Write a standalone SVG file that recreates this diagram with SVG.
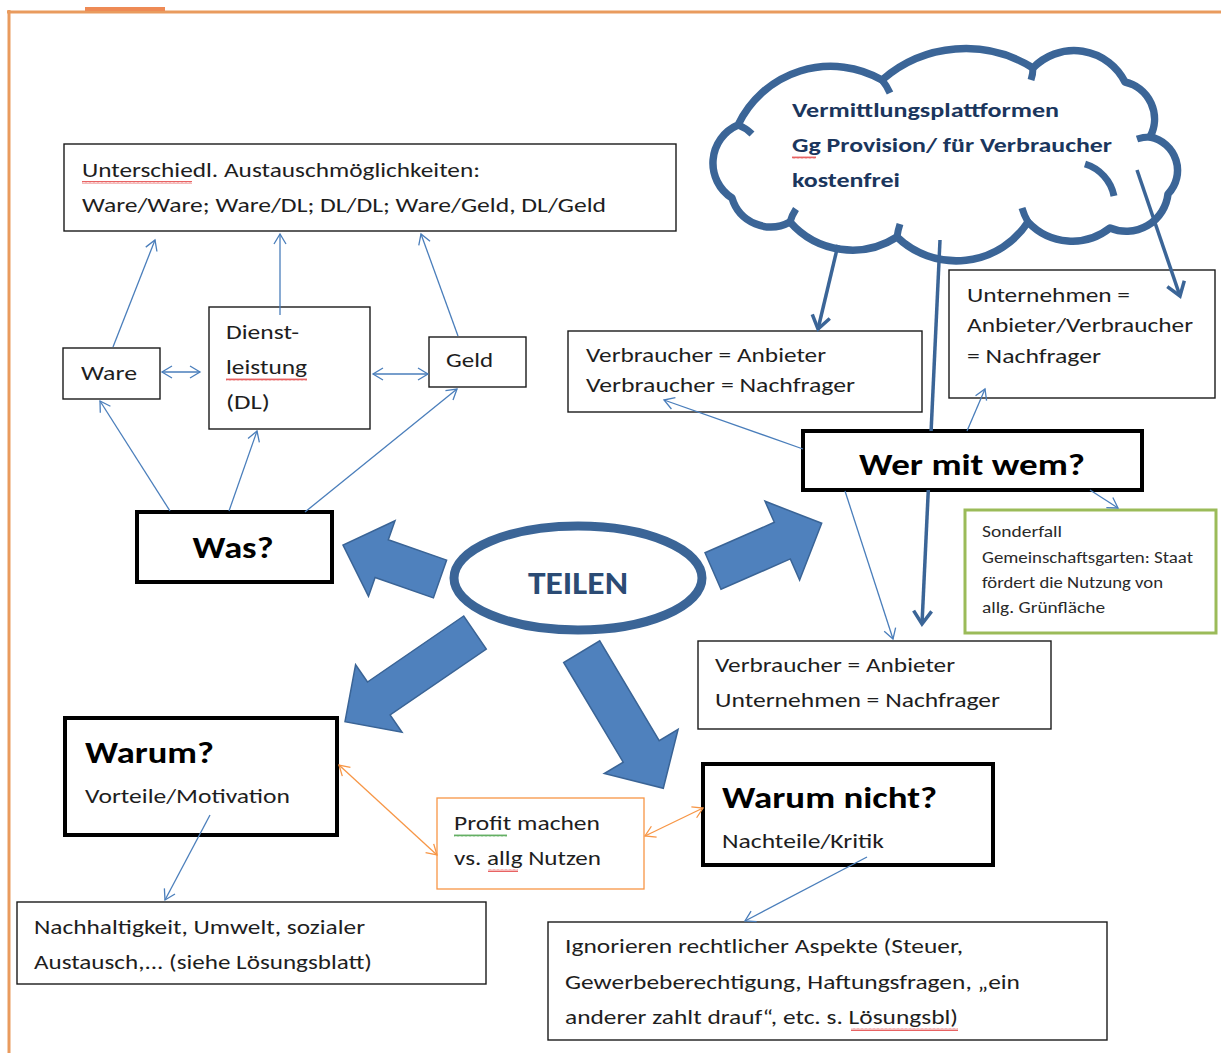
<svg xmlns="http://www.w3.org/2000/svg" width="1221" height="1053" viewBox="0 0 1221 1053">
<style>
.t{font-family:Carlito,Lato,"Open Sans","Liberation Sans",sans-serif;font-size:21px;fill:#1e1e1e}
.s{font-family:Carlito,Lato,"Open Sans","Liberation Sans",sans-serif;font-size:16px;fill:#2a2a2a}
.b{font-family:Carlito,Lato,"Open Sans","Liberation Sans",sans-serif;font-size:31px;font-weight:bold;fill:#000}
.cl{font-family:Carlito,Lato,"Open Sans","Liberation Sans",sans-serif;font-size:21px;font-weight:bold;fill:#1b365d}
.box{fill:#fff;stroke:#1a1a1a;stroke-width:1.4}
.tbox{fill:#fff;stroke:#000;stroke-width:4}
.con{fill:none;stroke:#4a7ebb;stroke-width:1.3}
.ocon{fill:none;stroke:#f79646;stroke-width:1.3}
.thk{fill:none;stroke:#3b6597;stroke-width:3.5}
.blk{fill:#4f81bd;stroke:#3a6496;stroke-width:1.5}
</style>
<defs>
<marker id="ab" viewBox="-12 -8 14 16" markerWidth="14" markerHeight="16" refX="0" refY="0" orient="auto-start-reverse" markerUnits="userSpaceOnUse"><path d="M-10,-6 L0,0 L-10,6" fill="none" stroke="#4a7ebb" stroke-width="1.3"/></marker>
<marker id="ao" viewBox="-12 -8 14 16" markerWidth="14" markerHeight="16" refX="0" refY="0" orient="auto-start-reverse" markerUnits="userSpaceOnUse"><path d="M-10,-6 L0,0 L-10,6" fill="none" stroke="#f79646" stroke-width="1.3"/></marker>
<marker id="at" viewBox="-18 -12 21 24" markerWidth="21" markerHeight="24" refX="0" refY="0" orient="auto" markerUnits="userSpaceOnUse"><path d="M-13,-9 L0,0 L-13,9" fill="none" stroke="#3b6597" stroke-width="3.5"/></marker>
<pattern id="wr" width="4" height="3" patternUnits="userSpaceOnUse"><path d="M0,2.5 L1,0.5 L2,2.5 L3,0.5 L4,2.5" fill="none" stroke="#e23b3b" stroke-width="0.8"/></pattern>
<pattern id="wg" width="4" height="3" patternUnits="userSpaceOnUse"><path d="M0,2.5 L1,0.5 L2,2.5 L3,0.5 L4,2.5" fill="none" stroke="#3c9a3c" stroke-width="0.8"/></pattern>
</defs>

<g id="frame">
<line x1="7" y1="12" x2="1221" y2="12" stroke="#e99b5e" stroke-width="3"/>
<line x1="9" y1="10" x2="9" y2="1053" stroke="#e99b5e" stroke-width="3"/>
<rect x="85" y="7" width="80" height="4" fill="#ee8a55"/>
</g>

<g id="cloud">
<path d="M732,198 A41.5 41.5 0 0 1 738,125 A102.7 102.7 0 0 1 882,80 A127 127 0 0 1 1033,68 A57 57 0 0 1 1125,82 A38 38 0 0 1 1150,137 A34 34 0 0 1 1168,194 A42 42 0 0 1 1110,228 A60.8 60.8 0 0 1 1028,222 A85.6 85.6 0 0 1 897,237 A82.9 82.9 0 0 1 790,222 A40.4 40.4 0 0 1 732,198 Z" fill="#fff" stroke="#3b6597" stroke-width="7.5" stroke-linejoin="round"/>
<path d="M738,125 Q746,128 752,134 M882,80 Q887,86 890,93 M1033,68 Q1033,74 1031,80 M1150,137 Q1143,137 1137,139 M1028,222 Q1024,215 1022,208 M897,237 Q898,230 900,224 M790,222 Q792,215 796,209 M1085,164 A42 42 0 0 1 1114,196" fill="none" stroke="#3b6597" stroke-width="7"/>
<text class="cl" x="792" y="117" textLength="267" lengthAdjust="spacingAndGlyphs">Vermittlungsplattformen</text>
<text class="cl" x="792" y="152" textLength="320" lengthAdjust="spacingAndGlyphs">Gg Provision/ für Verbraucher</text>
<text class="cl" x="792" y="187" textLength="108" lengthAdjust="spacingAndGlyphs">kostenfrei</text>
<rect x="792" y="156" width="24" height="3" fill="url(#wr)"/>
</g>

<g id="block-arrows">
<polygon class="blk" points="446.6,560.1 388.3,539.7 395,520.8 343,545 368.5,596.4 375.1,577.5 433.4,597.9"/>
<polygon class="blk" points="705,552.7 774.3,522.3 765,501.2 821.7,523.3 799.6,580 790.3,558.9 721,589.3"/>
<polygon class="blk" points="463.7,616 367.5,682 355.6,664.7 345,721.7 402,732.3 390.1,715 486.3,649"/>
<polygon class="blk" points="563.7,662.5 623.2,762.2 604.3,773.5 663.3,788.3 678.1,729.3 659.2,740.6 599.7,640.9"/>
</g>

<g id="teilen">
<ellipse cx="578" cy="578" rx="124" ry="52" fill="#fff" stroke="#3b6597" stroke-width="9"/>
<text x="578" y="594" text-anchor="middle" font-family="Carlito,Lato,'Open Sans',sans-serif" font-size="32" font-weight="bold" fill="#2b4b74" textLength="100" lengthAdjust="spacingAndGlyphs">TEILEN</text>
</g>

<g id="austausch">
<rect class="box" x="64" y="144" width="612" height="87"/>
<text class="t" x="82" y="177" textLength="398" lengthAdjust="spacingAndGlyphs">Unterschiedl. Austauschmöglichkeiten:</text>
<text class="t" x="82" y="212" textLength="524" lengthAdjust="spacingAndGlyphs">Ware/Ware; Ware/DL; DL/DL; Ware/Geld, DL/Geld</text>
<rect x="82" y="181" width="110" height="3" fill="url(#wr)"/>
</g>

<g id="ware">
<rect class="box" x="63" y="348" width="97" height="51"/>
<text class="t" x="81" y="380" textLength="56" lengthAdjust="spacingAndGlyphs">Ware</text>
</g>

<g id="dienstleistung">
<rect class="box" x="209" y="307" width="161" height="122"/>
<text class="t" x="226" y="339" textLength="73" lengthAdjust="spacingAndGlyphs">Dienst-</text>
<text class="t" x="226" y="374" textLength="81" lengthAdjust="spacingAndGlyphs">leistung</text>
<text class="t" x="226" y="409" textLength="44" lengthAdjust="spacingAndGlyphs">(DL)</text>
<rect x="226" y="378" width="81" height="3" fill="url(#wr)"/>
</g>

<g id="geld">
<rect class="box" x="429" y="337" width="97" height="50"/>
<text class="t" x="446" y="367" textLength="47" lengthAdjust="spacingAndGlyphs">Geld</text>
</g>

<g id="was">
<rect class="tbox" x="137" y="512" width="195" height="70"/>
<text class="b" x="233" y="558" text-anchor="middle" textLength="81" lengthAdjust="spacingAndGlyphs">Was?</text>
</g>

<g id="verbraucher-verbraucher">
<rect class="box" x="568" y="331" width="354" height="81"/>
<text class="t" x="586" y="362" textLength="240" lengthAdjust="spacingAndGlyphs">Verbraucher = Anbieter</text>
<text class="t" x="586" y="392" textLength="269" lengthAdjust="spacingAndGlyphs">Verbraucher = Nachfrager</text>
</g>

<g id="unternehmen">
<rect class="box" x="949" y="270" width="266" height="128"/>
<text class="t" x="967" y="302" textLength="163" lengthAdjust="spacingAndGlyphs">Unternehmen =</text>
<text class="t" x="967" y="332" textLength="226" lengthAdjust="spacingAndGlyphs">Anbieter/Verbraucher</text>
<text class="t" x="967" y="363" textLength="134" lengthAdjust="spacingAndGlyphs">= Nachfrager</text>
</g>

<g id="wer-mit-wem">
<rect class="tbox" x="803" y="431" width="339" height="59"/>
<text class="b" x="972" y="475" text-anchor="middle" textLength="226" lengthAdjust="spacingAndGlyphs">Wer mit wem?</text>
</g>

<g id="sonderfall">
<rect x="965" y="510" width="251" height="123" fill="#fff" stroke="#9bbb59" stroke-width="3"/>
<text class="s" x="982" y="537" textLength="80" lengthAdjust="spacingAndGlyphs">Sonderfall</text>
<text class="s" x="982" y="563" textLength="211" lengthAdjust="spacingAndGlyphs">Gemeinschaftsgarten: Staat</text>
<text class="s" x="982" y="588" textLength="181" lengthAdjust="spacingAndGlyphs">fördert die Nutzung von</text>
<text class="s" x="982" y="613" textLength="123" lengthAdjust="spacingAndGlyphs">allg. Grünfläche</text>
</g>

<g id="verbraucher-unternehmen">
<rect class="box" x="698" y="641" width="353" height="88"/>
<text class="t" x="715" y="672" textLength="240" lengthAdjust="spacingAndGlyphs">Verbraucher = Anbieter</text>
<text class="t" x="715" y="707" textLength="285" lengthAdjust="spacingAndGlyphs">Unternehmen = Nachfrager</text>
</g>

<g id="warum">
<rect class="tbox" x="65" y="718" width="272" height="117"/>
<text class="b" x="85" y="763" textLength="129" lengthAdjust="spacingAndGlyphs">Warum?</text>
<text class="t" x="85" y="803" textLength="205" lengthAdjust="spacingAndGlyphs">Vorteile/Motivation</text>
</g>

<g id="warum-nicht">
<rect class="tbox" x="703" y="764" width="290" height="101"/>
<text class="b" x="722" y="808" textLength="215" lengthAdjust="spacingAndGlyphs">Warum nicht?</text>
<text class="t" x="722" y="848" textLength="162" lengthAdjust="spacingAndGlyphs">Nachteile/Kritik</text>
</g>

<g id="profit">
<rect x="437" y="798" width="207" height="91" fill="#fff" stroke="#f79646" stroke-width="1.3"/>
<text class="t" x="454" y="830" textLength="146" lengthAdjust="spacingAndGlyphs">Profit machen</text>
<text class="t" x="454" y="865" textLength="147" lengthAdjust="spacingAndGlyphs">vs. allg Nutzen</text>
<rect x="454" y="834" width="53" height="3" fill="url(#wg)"/>
<rect x="488" y="869" width="30" height="3" fill="url(#wr)"/>
</g>

<g id="nachhaltigkeit">
<rect class="box" x="17" y="902" width="469" height="82"/>
<text class="t" x="34" y="934" textLength="331" lengthAdjust="spacingAndGlyphs">Nachhaltigkeit, Umwelt, sozialer</text>
<text class="t" x="34" y="969" textLength="338" lengthAdjust="spacingAndGlyphs">Austausch,... (siehe Lösungsblatt)</text>
</g>

<g id="ignorieren">
<rect class="box" x="548" y="922" width="559" height="118"/>
<text class="t" x="565" y="953" textLength="398" lengthAdjust="spacingAndGlyphs">Ignorieren rechtlicher Aspekte (Steuer,</text>
<text class="t" x="565" y="989" textLength="455" lengthAdjust="spacingAndGlyphs">Gewerbeberechtigung, Haftungsfragen, „ein</text>
<text class="t" x="565" y="1024" textLength="393" lengthAdjust="spacingAndGlyphs">anderer zahlt drauf“, etc. s. Lösungsbl)</text>
<rect x="851" y="1028" width="107" height="3" fill="url(#wr)"/>
</g>

<g id="connectors">
<line class="con" x1="113" y1="347" x2="155" y2="240" marker-end="url(#ab)"/>
<line class="con" x1="280" y1="315" x2="280" y2="234" marker-end="url(#ab)"/>
<line class="con" x1="458" y1="336" x2="421" y2="234" marker-end="url(#ab)"/>
<line class="con" x1="162" y1="372" x2="200" y2="372" marker-start="url(#ab)" marker-end="url(#ab)"/>
<line class="con" x1="373" y1="374" x2="428" y2="374" marker-start="url(#ab)" marker-end="url(#ab)"/>
<line class="con" x1="170" y1="511" x2="100" y2="401" marker-end="url(#ab)"/>
<line class="con" x1="229" y1="511" x2="257" y2="431" marker-end="url(#ab)"/>
<line class="con" x1="305" y1="512" x2="457" y2="389" marker-end="url(#ab)"/>
<line class="thk" x1="838" y1="245" x2="818" y2="329" marker-end="url(#at)"/>
<line class="thk" x1="940" y1="240" x2="931.1" y2="431"/>
<line class="thk" x1="928.3" y1="490" x2="922" y2="624" marker-end="url(#at)"/>
<line class="thk" x1="1137" y1="170" x2="1180" y2="296" marker-end="url(#at)"/>
<line class="con" x1="803" y1="449" x2="664" y2="400" marker-end="url(#ab)"/>
<line class="con" x1="967" y1="431" x2="985" y2="389" marker-end="url(#ab)"/>
<line class="con" x1="1090" y1="490" x2="1118" y2="508" marker-end="url(#ab)"/>
<line class="con" x1="845" y1="491" x2="893" y2="639" marker-end="url(#ab)"/>
<line class="ocon" x1="339" y1="765" x2="437" y2="855" marker-start="url(#ao)" marker-end="url(#ao)"/>
<line class="ocon" x1="645" y1="836" x2="703" y2="808" marker-start="url(#ao)" marker-end="url(#ao)"/>
<line class="con" x1="210" y1="815" x2="165" y2="900" marker-end="url(#ab)"/>
<line class="con" x1="867" y1="857" x2="745" y2="921" marker-end="url(#ab)"/>
</g>
</svg>
